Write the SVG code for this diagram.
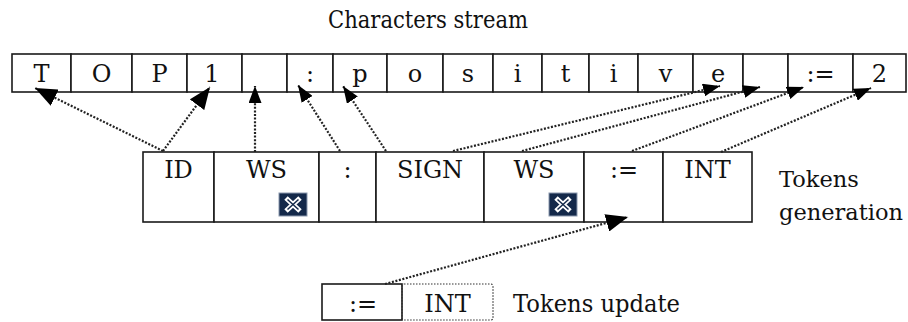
<svg xmlns="http://www.w3.org/2000/svg" width="908" height="322" viewBox="0 0 908 322">
<style>
  .cell { fill: #ffffff; stroke: #1a1a1a; stroke-width: 1.6; }
  .t { font-family: 'DejaVu Serif', 'Liberation Serif', serif; font-size: 24px; fill: #111; text-anchor: middle; }
  .lbl { font-family: 'DejaVu Serif', 'Liberation Serif', serif; font-size: 24px; fill: #111; }
  .side { font-size: 22.5px; }
  .dot { fill: none; stroke: #222; stroke-width: 2.2; stroke-dasharray: 2 1.6; }
  .icon { fill: #14294a; stroke: #8a98ad; stroke-width: 1; }
  .ix { stroke: #ffffff; stroke-width: 5; }
  .ixi { stroke: #14294a; stroke-width: 1.5; }
</style>
<defs>
  <marker id="big" viewBox="0 0 22 18" refX="22" refY="9" markerWidth="22" markerHeight="18" markerUnits="userSpaceOnUse" orient="auto">
    <path d="M0,0 L22,9 L0,18 z" fill="#000"/>
  </marker>
  <marker id="med" viewBox="0 0 17 13" refX="17" refY="6.5" markerWidth="17" markerHeight="13" markerUnits="userSpaceOnUse" orient="auto">
    <path d="M0,0 L17,6.5 L0,13 z" fill="#000"/>
  </marker>
  <g id="xicon">
    <rect class="icon" x="0" y="0" width="28" height="23"/>
    <path class="ix" d="M7,5 L21,18 M21,5 L7,18"/>
    <path class="ixi" d="M8.5,6.5 L19.5,16.5 M19.5,6.5 L8.5,16.5"/>
  </g>
</defs>

<text class="lbl" x="328" y="28" textLength="200" lengthAdjust="spacingAndGlyphs">Characters stream</text>

<g id="chars">
  <g id="c1"><rect class="cell" x="12" y="54" width="59" height="38"/><text class="t" x="41.5" y="82">T</text></g>
  <g id="c2"><rect class="cell" x="71" y="54" width="61" height="38"/><text class="t" x="101.5" y="82">O</text></g>
  <g id="c3"><rect class="cell" x="132" y="54" width="55" height="38"/><text class="t" x="159.5" y="82">P</text></g>
  <g id="c4"><rect class="cell" x="187" y="54" width="55" height="38"/><text class="t" x="212" y="82">1</text></g>
  <g id="c5"><rect class="cell" x="242" y="54" width="45" height="38"/></g>
  <g id="c6"><rect class="cell" x="287" y="54" width="46" height="38"/><text class="t" x="310" y="82">:</text></g>
  <g id="c7"><rect class="cell" x="333" y="54" width="54" height="38"/><text class="t" x="360" y="82">p</text></g>
  <g id="c8"><rect class="cell" x="387" y="54" width="56" height="38"/><text class="t" x="415" y="82">o</text></g>
  <g id="c9"><rect class="cell" x="443" y="54" width="50" height="38"/><text class="t" x="468" y="82">s</text></g>
  <g id="c10"><rect class="cell" x="493" y="54" width="49" height="38"/><text class="t" x="517.5" y="82">i</text></g>
  <g id="c11"><rect class="cell" x="542" y="54" width="47" height="38"/><text class="t" x="565.5" y="82">t</text></g>
  <g id="c12"><rect class="cell" x="589" y="54" width="49" height="38"/><text class="t" x="613.5" y="82">i</text></g>
  <g id="c13"><rect class="cell" x="638" y="54" width="55" height="38"/><text class="t" x="665.5" y="82">v</text></g>
  <g id="c14"><rect class="cell" x="693" y="54" width="50" height="38"/><text class="t" x="718" y="82">e</text></g>
  <g id="c15"><rect class="cell" x="743" y="54" width="45" height="38"/></g>
  <g id="c16"><rect class="cell" x="788" y="54" width="65" height="38"/><text class="t" x="820.5" y="82">:=</text></g>
  <g id="c17"><rect class="cell" x="853" y="54" width="53" height="38"/><text class="t" x="879.5" y="82">2</text></g>
</g>

<g id="tokens">
  <g id="tk-id"><rect class="cell" x="143" y="152" width="71" height="70"/><text class="t" x="178.5" y="178">ID</text></g>
  <g id="tk-ws1"><rect class="cell" x="214" y="152" width="105" height="70"/><text class="t" x="266.5" y="178">WS</text><use href="#xicon" x="279" y="193"/></g>
  <g id="tk-colon"><rect class="cell" x="319" y="152" width="57" height="70"/><text class="t" x="347.5" y="178">:</text></g>
  <g id="tk-sign"><rect class="cell" x="376" y="152" width="108" height="70"/><text class="t" x="430" y="178">SIGN</text></g>
  <g id="tk-ws2"><rect class="cell" x="484" y="152" width="100" height="70"/><text class="t" x="534" y="178">WS</text><use href="#xicon" x="549" y="193"/></g>
  <g id="tk-assign"><rect class="cell" x="584" y="152" width="79" height="70"/><text class="t" x="624" y="178">:=</text></g>
  <g id="tk-int"><rect class="cell" x="663" y="152" width="89" height="70"/><text class="t" x="707.5" y="178">INT</text></g>
</g>
<text class="lbl side" x="779" y="187">Tokens</text>
<text class="lbl side" x="779" y="220">generation</text>

<g id="update">
  <g id="up-assign"><rect class="cell" x="322" y="284" width="80" height="36"/><text class="t" x="363" y="312">:=</text></g>
  <g id="up-int"><rect x="402" y="284" width="91" height="36" rx="2" fill="none" stroke="#333" stroke-width="1.2" stroke-dasharray="1.5 1.5"/><text class="t" x="447.5" y="312">INT</text></g>
</g>
<text class="lbl" x="513" y="312" textLength="167" lengthAdjust="spacingAndGlyphs">Tokens update</text>

<g id="connectors">
  <line class="dot" x1="163" y1="151" x2="35" y2="88" marker-end="url(#big)"/>
  <line class="dot" x1="163" y1="151" x2="210" y2="87" marker-end="url(#big)"/>
  <line class="dot" x1="255" y1="152" x2="255" y2="86" marker-end="url(#med)"/>
  <line class="dot" x1="340" y1="151" x2="298" y2="85" marker-end="url(#med)"/>
  <line class="dot" x1="386" y1="151" x2="343" y2="86" marker-end="url(#med)"/>
  <line class="dot" x1="453" y1="151" x2="720" y2="86" marker-end="url(#med)"/>
  <line class="dot" x1="522" y1="151" x2="760" y2="87" marker-end="url(#med)"/>
  <line class="dot" x1="632" y1="151" x2="804" y2="87" marker-end="url(#med)"/>
  <line class="dot" x1="721" y1="152" x2="871" y2="88" marker-end="url(#med)"/>
  <line class="dot" x1="385" y1="284" x2="628" y2="217" marker-end="url(#big)"/>
</g>
</svg>
